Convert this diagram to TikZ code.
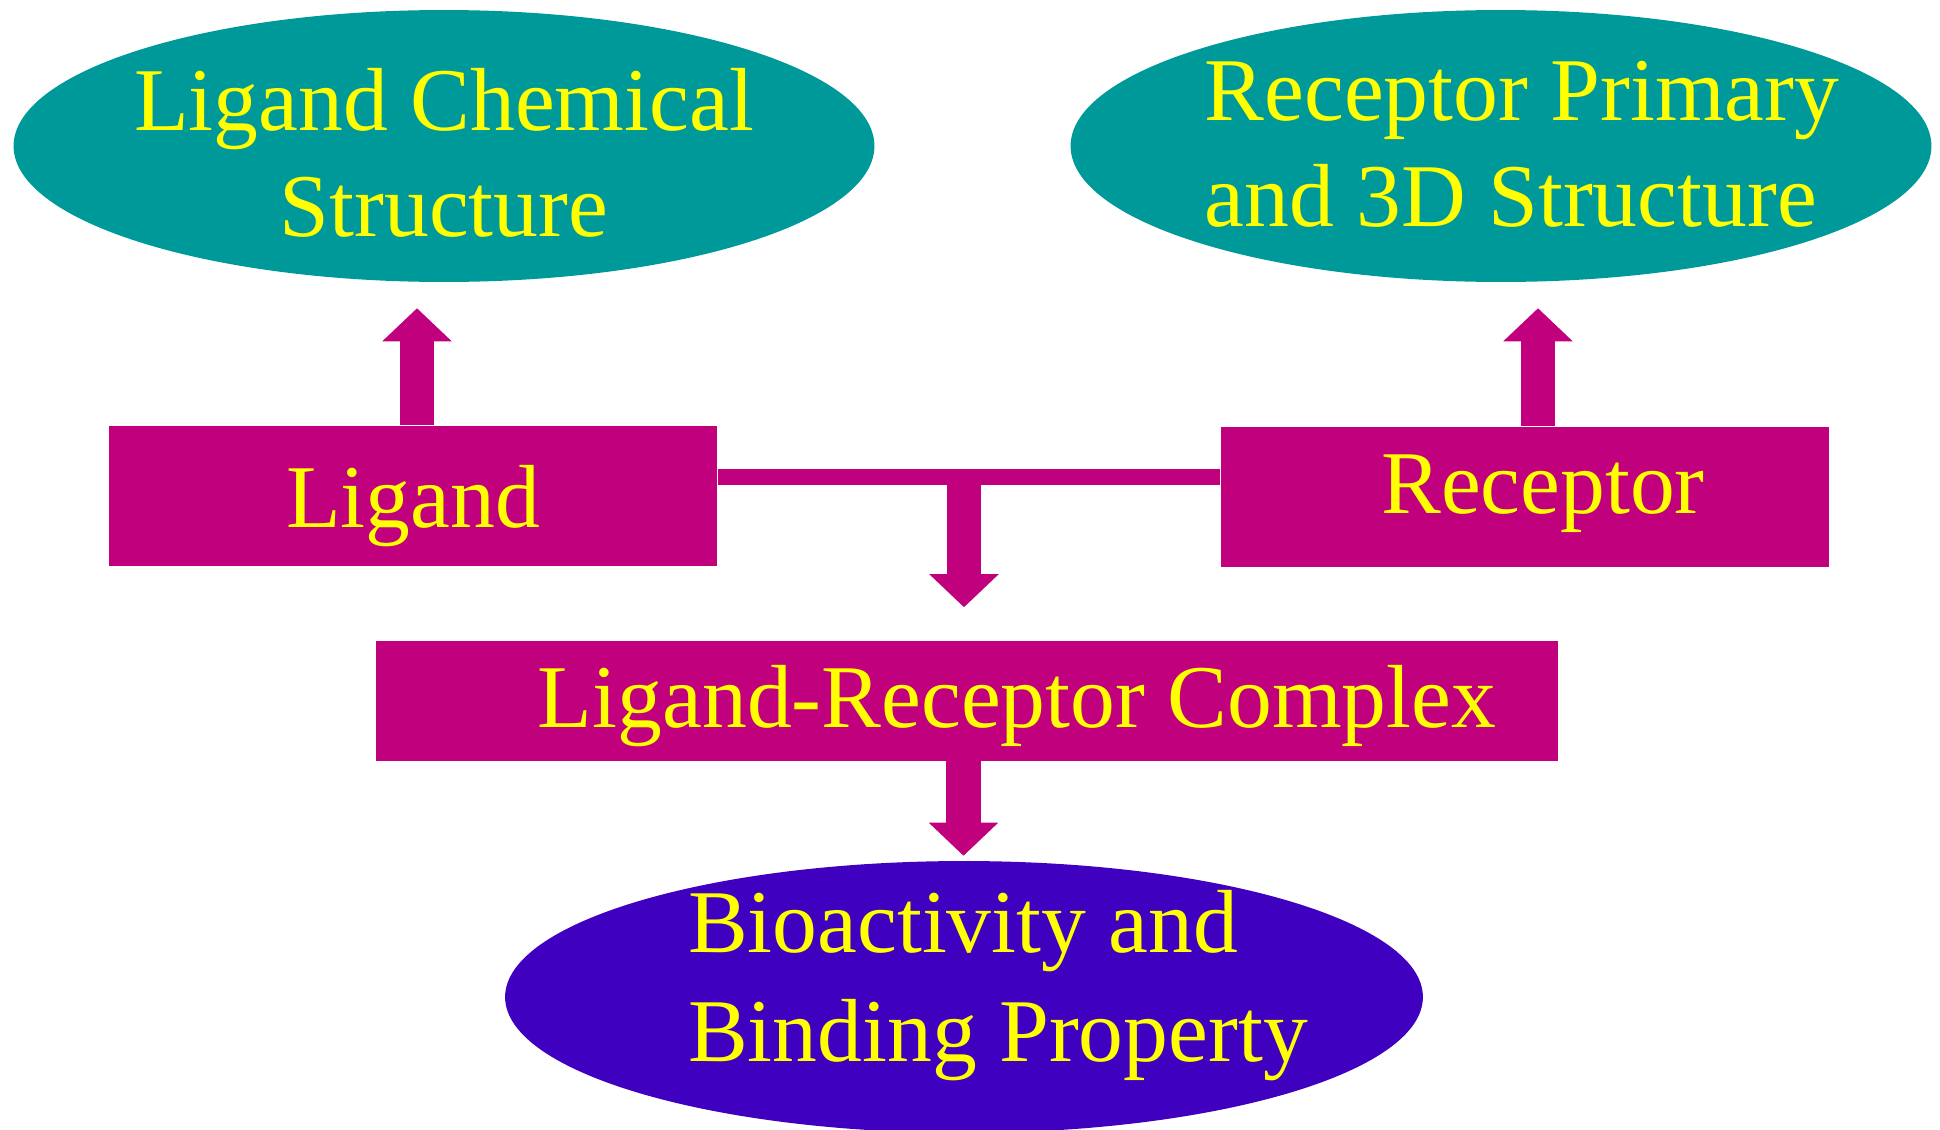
\documentclass[tikz,border=0pt]{standalone}
\usepackage{fontspec}
\setmainfont{Liberation Serif}
\usetikzlibrary{shapes.geometric,arrows.meta}
\definecolor{teal}{HTML}{009999}
\definecolor{mag}{HTML}{C0007C}
\definecolor{violet}{HTML}{4000C0}
\definecolor{yel}{HTML}{FFFF00}
\tikzset{
  big/.style={text=yel, font=\fontsize{51}{60}\selectfont},
  oval/.style={big, ellipse, fill=teal, minimum width=17.22cm, minimum height=5.44cm,
    inner xsep=-1.5cm, inner ysep=-0.5cm},
  box/.style={big, rectangle, fill=mag, inner sep=0pt, text depth=0pt},
  bar/.style={draw=mag, line width=0.32cm},
  blk/.style={draw=mag, line width=0.69cm,
    -{Triangle[length=0.66cm, width=1.39cm, line width=0pt]}},
}
\begin{document}
\begin{tikzpicture}[x=0.02cm, y=-0.02cm]
  \useasboundingbox (0,0) rectangle (1940,1129);

  % ovals
  \node[oval] (chem) at (444,146)
    {\raisebox{-0.33cm}[\height][\depth]{\begin{tabular}{@{}c@{}}Ligand Chemical\\Structure\end{tabular}}};
  \node[oval] (recstr) at (1501,146)
    {\hspace{0.84cm}\raisebox{-0.13cm}[\height][\depth]{\begin{tabular}{@{}l@{}}Receptor Primary\\and 3D Structure\end{tabular}}};
  \node[oval, fill=violet, minimum width=18.36cm, font=\fontsize{51}{62}\selectfont] (bio) at (964,997)
    {\hspace{1.36cm}\raisebox{0.23cm}[\height][\depth]{\begin{tabular}{@{}l@{}}Bioactivity and\\Binding Property\end{tabular}}};

  % boxes
  \node[box, minimum width=12.17cm, minimum height=2.82cm] (lig) at (413,496) {Ligand};
  \node[box, minimum width=12.17cm, minimum height=2.82cm] (rec) at (1525,497)
    {\hspace{0.72cm}\raisebox{0.26cm}[\height][\depth]{Receptor}};
  \node[box, minimum width=23.66cm, minimum height=2.4cm] (cplx) at (967,701)
    {\hspace{2cm}\raisebox{0.09cm}[\height][\depth]{Ligand-Receptor Complex}};

  % up arrows
  \draw[blk, shorten >=0.52cm] ([xshift=0.08cm]lig.north) -- ([xshift=0.08cm]lig.north |- chem.south);
  \draw[blk, shorten >=0.52cm] ([xshift=0.26cm]rec.north) -- ([xshift=0.26cm]rec.north |- recstr.south);

  % joining bar and down arrows
  \draw[bar] ([yshift=0.38cm]lig.east) coordinate (barl) -- coordinate (join) (barl -| rec.west);
  \draw[blk, shorten >=0.67cm] ([xshift=-0.1cm]join) -- ([xshift=-0.1cm]join |- cplx.north);
  \draw[blk, shorten >=0.1cm] ([xshift=-0.07cm]cplx.south) -- ([xshift=-0.07cm]cplx.south |- bio.north);
\end{tikzpicture}
\end{document}
